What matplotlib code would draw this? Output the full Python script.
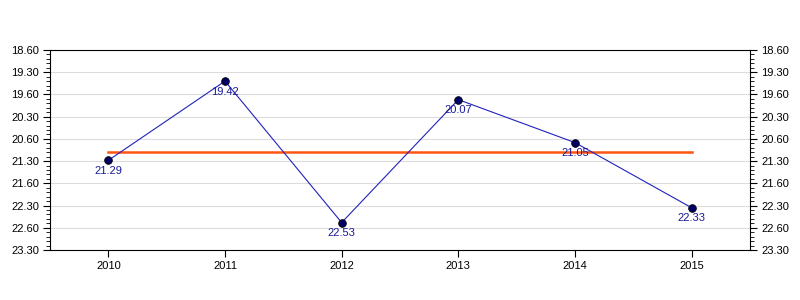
import matplotlib
matplotlib.use("Agg")
import matplotlib.pyplot as plt
from matplotlib.ticker import MultipleLocator, FixedLocator
import numpy as np

plt.rcParams['font.family'] = ['Liberation Sans', 'DejaVu Sans']

years = [2010, 2011, 2012, 2013, 2014, 2015]
# values as shown (minutes.seconds)
value_labels = ["21.29", "19.42", "22.53", "20.07", "21.05", "22.33"]
ytick_labels = ["18.60", "19.30", "19.60", "20.30", "20.60",
                "21.30", "21.60", "22.30", "22.60", "23.30"]
ytick_values = [19.0, 19.5, 20.0, 20.5, 21.0, 21.5, 22.0, 22.5, 23.0, 23.5]


def mmss_to_min(s):
    m, sec = s.split(".")
    return int(m) + int(sec) / 60.0


values = [mmss_to_min(v) for v in value_labels]
avg = float(np.mean(values))

fig = plt.figure(figsize=(8, 3), dpi=100)
ax = fig.add_axes([0.0625, 1 / 6, 0.875, 2 / 3])

ax.set_xlim(2009.5, 2015.5)
ax.set_ylim(23.5, 19.0)

ax.yaxis.set_major_locator(FixedLocator(ytick_values))
ax.set_yticklabels(ytick_labels)
ax.yaxis.set_minor_locator(MultipleLocator(0.1))
ax.set_xticks(years)
ax.set_xticklabels([str(y) for y in years])

ax.grid(axis='y', which='major', color='#dcdcdc', linewidth=0.8)
ax.set_axisbelow(True)

ax.tick_params(axis='y', which='both', left=True, right=True,
               labelleft=True, labelright=True, direction='out',
               labelsize=8, colors='black')
ax.tick_params(axis='y', which='major', length=5, width=0.8, pad=3)
ax.tick_params(axis='y', which='minor', length=3, width=0.6)
ax.tick_params(axis='x', which='major', length=5, width=0.8, labelsize=8,
               direction='out', pad=3)
for sp in ax.spines.values():
    sp.set_linewidth(0.8)
    sp.set_color('black')

ax.plot([years[0], years[-1]], [avg, avg], color='#ff5511', linewidth=1.8,
        zorder=2)
ax.plot(years, values, color='#2222bb', linewidth=0.8, marker='o',
        markersize=5.5, markerfacecolor='#000066', markeredgecolor='black',
        markeredgewidth=0.6, zorder=3)

for x, y, lab in zip(years, values, value_labels):
    ax.annotate(lab, (x, y), xytext=(0, -7.5), textcoords='offset points',
                ha='center', va='center', fontsize=8, color='#1a1a99',
                zorder=4)

fig.savefig("out.png", dpi=100)
